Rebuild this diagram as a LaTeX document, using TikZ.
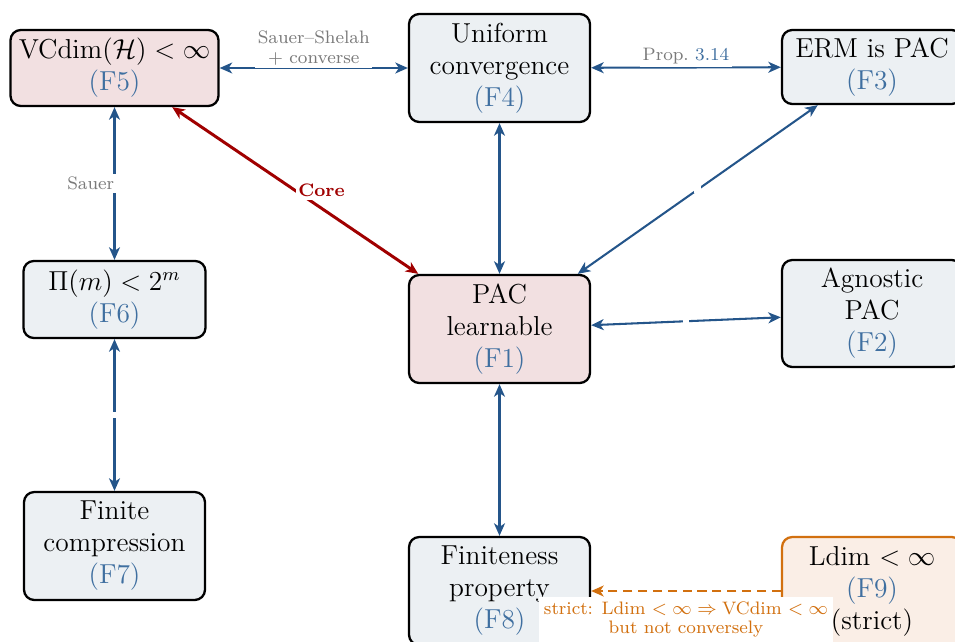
\documentclass[tikz,border=0pt]{standalone}
\usetikzlibrary{arrows.meta}
\definecolor{boxfill}{HTML}{ECF0F3}
\definecolor{corefill}{HTML}{F2E0E1}
\definecolor{flabel}{HTML}{3F6FA0}
\definecolor{edgeblue}{HTML}{24558A}
\definecolor{corered}{HTML}{A00000}
\definecolor{strictor}{HTML}{D2700F}
\definecolor{strictfill}{HTML}{FAEEE6}
\definecolor{lblgrey}{HTML}{7A7A7A}
\newcommand{\fl}[1]{\textcolor{flabel}{(#1)}}
\newcommand{\lblsize}{\fontsize{7.9}{8.4}\selectfont}
\begin{document}
\begin{tikzpicture}[x=0.4375pt,y=-0.4375pt,
  >={Stealth[length=5.5pt,width=4.8pt,inset=1.6pt]},
  fbox/.style={draw=black, line width=1pt, rounded corners=4.5pt, fill=boxfill,
    align=center, font=\large, inner sep=0pt, minimum width=181*0.4375pt, minimum height=108*0.4375pt},
  corebox/.style={fbox, fill=corefill},
  strictbox/.style={fbox, draw=strictor, fill=strictfill},
  link/.style={draw=edgeblue, line width=0.9pt, <->},
  corelink/.style={draw=corered, line width=1.3pt, <->},
  strictlink/.style={draw=strictor, line width=0.9pt, dash pattern=on 4pt off 2.5pt, ->},
  lbl/.style={font=\lblsize, text=lblgrey, fill=white, inner sep=1.2pt, align=center},
  gap/.style={fill=white, inner sep=1.5pt}
]
\useasboundingbox (0,0) rectangle (955,641);

\node[corebox, minimum width=208*0.4375pt, minimum height=76*0.4375pt] (F5) at (114.5,68)
  {$\mathrm{VCdim}(\mathcal{H})<\infty$\\\fl{F5}};
\node[fbox] (F4) at (499.5,68) {Uniform\\convergence\\\fl{F4}};
\node[fbox, minimum width=180*0.4375pt, minimum height=74*0.4375pt] (F3) at (872,67)
  {ERM is PAC\\\fl{F3}};
\node[fbox, minimum width=182*0.4375pt, minimum height=77*0.4375pt] (F6) at (114.5,299.5)
  {$\Pi(m)<2^m$\\\fl{F6}};
\node[corebox] (F1) at (499.5,329) {PAC\\learnable\\\fl{F1}};
\node[fbox, minimum width=180*0.4375pt, minimum height=107*0.4375pt] (F2) at (872,313.5)
  {Agnostic\\PAC\\\fl{F2}};
\node[fbox] (F7) at (114.5,546) {Finite\\compression\\\fl{F7}};
\node[fbox] (F8) at (499.5,591) {Finiteness\\property\\\fl{F8}};
\node[strictbox, minimum width=180*0.4375pt] (F9) at (872,591) {Ldim $<\infty$\\\fl{F9}\\(strict)};

\draw[link] (F5) -- node[lbl, above, yshift=-0.3pt] {Sauer--Shelah\\+ converse} (F4);
\draw[link] (F4) -- node[lbl, above, yshift=-0.3pt] {Prop.~\textcolor{flabel}{3.14}} (F3);
\draw[link] (F5.south) -- node[lbl, left, xshift=1.5pt] {Sauer} (F6.north);
\draw[corelink] (F5) -- node[lbl, right, text=corered, font=\lblsize\bfseries, xshift=-0.5pt] {Core} (F1);
\draw[link] (F4) -- (F1);
\draw[link] (F3) -- node[gap] {} (F1);
\draw[link] (F1) -- node[gap] {} (F2);
\draw[link] (F6.south) -- node[gap] {} (F7.north);
\draw[link] (F1) -- (F8);
\draw[strictlink] (F9) -- node[lbl, below, text=strictor, yshift=-2.3pt, inner sep=2pt]
  {strict: Ldim $<\infty\Rightarrow{}$VCdim $<\infty$\\but not conversely} (F8);
\end{tikzpicture}
\end{document}
